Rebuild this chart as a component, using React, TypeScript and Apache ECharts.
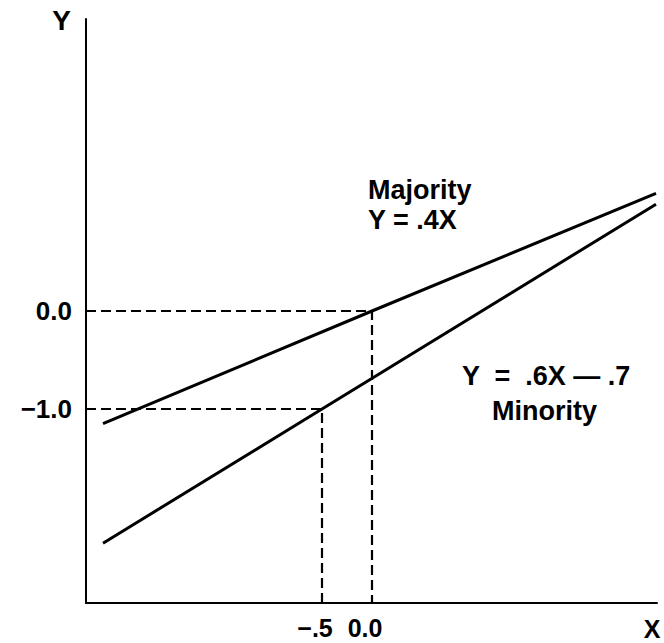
import React, { useEffect, useRef } from "react";
import * as echarts from "echarts";

const xMin = -2.86;
const xMax = 2.85;
const yMin = -2.98;
const yMax = 2.98;

const majority: number[][] = [[-2.69, -1.15], [0, 0], [2.84, 1.2]];
const minority: number[][] = [[-2.69, -2.37], [-0.5, -1.0], [2.84, 1.09]];
const guideZero: number[][] = [[xMin, 0], [0, 0], [0, yMin]];
const guideMinusOne: number[][] = [[xMin, -1], [-0.5, -1], [-0.5, yMin]];

const xTickValues = [-0.5, 0];
const xTickLabels = ["\u2212.5", "0.0"];
const yTickValues = [0, -1];
const yTickLabels = ["0.0", "\u22121.0"];

const FONT = "'Liberation Sans', Arial, Helvetica, sans-serif";

export default function App() {
  const ref = useRef<HTMLDivElement>(null);
  useEffect(() => {
    if (!ref.current) return;
    const chart = echarts.init(ref.current, null, { renderer: "svg" });
    const labelFor = (vals: number[], labels: string[]) => (v: number) => {
      const i = vals.findIndex((t) => Math.abs(t - v) < 1e-9);
      return i >= 0 ? labels[i] : "";
    };
    const lineSeries = (name: string, data: number[][]) => ({
      name,
      type: "line",
      data,
      symbol: "none",
      lineStyle: { color: "#000", width: 3 },
      silent: true,
    });
    const dashSeries = (name: string, data: number[][]) => ({
      name,
      type: "line",
      data,
      symbol: "none",
      lineStyle: { color: "#000", width: 2.2, type: [10, 5] },
      silent: true,
    });
    chart.setOption({
      animation: false,
      backgroundColor: "#fff",
      grid: { left: 86, right: 7, top: 19, bottom: 40 },
      xAxis: {
        type: "value",
        min: xMin,
        max: xMax,
        name: "X",
        nameLocation: "end",
        nameGap: -5,
        nameTextStyle: {
          color: "#000",
          fontFamily: FONT,
          fontWeight: "bold",
          fontSize: 25,
          lineHeight: 20,
          align: "center",
          verticalAlign: "top",
          padding: [16, 0, 0, 0],
        },
        axisLine: { show: true, onZero: false, lineStyle: { color: "#000", width: 2 } },
        axisTick: { show: false },
        splitLine: { show: false },
        axisLabel: {
          customValues: xTickValues,
          formatter: labelFor(xTickValues, xTickLabels),
          hideOverlap: false,
          color: "#000",
          fontFamily: FONT,
          fontWeight: "bold",
          fontSize: 25,
          lineHeight: 20,
          margin: 15,
          padding: [0, 14, 0, 0],
        },
      },
      yAxis: {
        type: "value",
        min: yMin,
        max: yMax,
        name: "Y",
        nameLocation: "end",
        nameGap: -1,
        nameTextStyle: {
          color: "#000",
          fontFamily: FONT,
          fontWeight: "bold",
          fontSize: 28,
          align: "right",
          verticalAlign: "middle",
          padding: [0, 15, 0, 0],
        },
        axisLine: { show: true, onZero: false, lineStyle: { color: "#000", width: 2 } },
        axisTick: { show: false },
        splitLine: { show: false },
        axisLabel: {
          customValues: yTickValues,
          formatter: labelFor(yTickValues, yTickLabels),
          hideOverlap: false,
          color: "#000",
          fontFamily: FONT,
          fontWeight: "bold",
          fontSize: 26,
          margin: 14,
        },
      },
      series: [
        dashSeries("guide0", guideZero),
        dashSeries("guide1", guideMinusOne),
        lineSeries("Majority", majority),
        lineSeries("Minority", minority),
      ],
      graphic: [
        {
          type: "text",
          x: 368,
          y: 190,
          style: {
            text: "Majority",
            fill: "#000",
            font: `bold 27px ${FONT}`,
            textAlign: "left",
            textVerticalAlign: "middle",
          },
        },
        {
          type: "text",
          x: 368,
          y: 220,
          style: {
            text: "Y = .4X",
            fill: "#000",
            font: `bold 27px ${FONT}`,
            textAlign: "left",
            textVerticalAlign: "middle",
          },
        },
        {
          type: "text",
          x: 462,
          y: 376,
          style: {
            text: "Y  =  .6X \u2014 .7",
            fill: "#000",
            font: `bold 27px ${FONT}`,
            textAlign: "left",
            textVerticalAlign: "middle",
          },
        },
        {
          type: "text",
          x: 492,
          y: 411,
          style: {
            text: "Minority",
            fill: "#000",
            font: `bold 27px ${FONT}`,
            textAlign: "left",
            textVerticalAlign: "middle",
          },
        },
      ],
    });
    return () => chart.dispose();
  }, []);
  return (
    <div
      ref={ref}
      style={{ position: "absolute", left: 0, top: 0, width: 664, height: 643 }}
    />
  );
}
